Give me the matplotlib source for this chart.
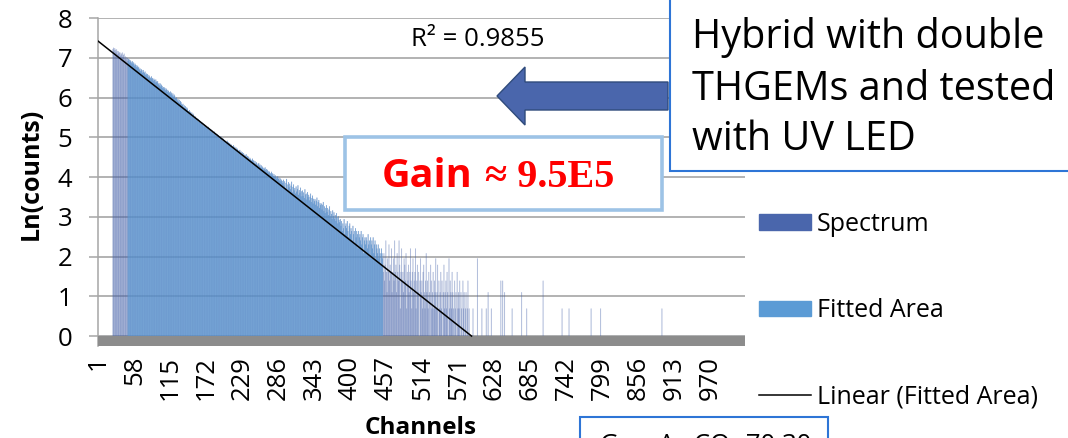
import numpy as np
import matplotlib.pyplot as plt
from matplotlib.patches import Patch, Rectangle, Polygon
from matplotlib.lines import Line2D

plt.rcParams['font.family'] = ['Open Sans', 'DejaVu Sans']

W, H = 1068, 438

# Ln(counts) per channel, dense part starting at channel 24 (channels 1-23 are empty)
n_channels = 1024
first_channel = 24
ln_counts = [
    7.22, 7.25, 7.18, 7.24, 7.20, 7.13, 7.21, 7.17, 7.09, 7.16,
    7.12, 7.14, 7.05, 7.11, 7.08, 7.13, 7.02, 7.07, 7.10, 6.98,
    7.03, 6.96, 7.01, 6.99, 6.92, 6.97, 6.95, 6.88, 6.93, 6.90,
    6.86, 6.91, 6.84, 6.88, 6.80, 6.85, 6.82, 6.76, 6.81, 6.78,
    6.74, 6.77, 6.70, 6.73, 6.66, 6.71, 6.68, 6.62, 6.69, 6.64,
    6.61, 6.65, 6.57, 6.60, 6.55, 6.59, 6.51, 6.56, 6.53, 6.48,
    6.50, 6.53, 6.46, 6.49, 6.42, 6.47, 6.44, 6.38, 6.45, 6.40,
    6.37, 6.41, 6.33, 6.36, 6.30, 6.35, 6.27, 6.32, 6.29, 6.24,
    6.26, 6.21, 6.25, 6.18, 6.23, 6.20, 6.14, 6.19, 6.16, 6.11,
    6.13, 6.15, 6.08, 6.12, 6.05, 6.10, 6.02, 6.07, 6.04, 5.98,
    5.97, 6.00, 5.92, 5.96, 5.89, 5.94, 5.86, 5.91, 5.88, 5.83,
    5.81, 5.84, 5.76, 5.80, 5.73, 5.78, 5.70, 5.75, 5.72, 5.66,
    5.65, 5.68, 5.60, 5.64, 5.57, 5.62, 5.54, 5.59, 5.56, 5.50,
    5.49, 5.52, 5.45, 5.48, 5.41, 5.46, 5.38, 5.43, 5.40, 5.35,
    5.35, 5.37, 5.31, 5.34, 5.27, 5.32, 5.25, 5.29, 5.26, 5.22,
    5.23, 5.26, 5.19, 5.22, 5.15, 5.20, 5.13, 5.17, 5.14, 5.09,
    5.11, 5.14, 5.07, 5.10, 5.03, 5.08, 5.01, 5.05, 5.02, 4.97,
    4.99, 5.02, 4.95, 4.98, 4.91, 4.96, 4.89, 4.93, 4.90, 4.85,
    4.88, 4.91, 4.84, 4.87, 4.80, 4.85, 4.78, 4.82, 4.79, 4.74,
    4.77, 4.80, 4.72, 4.76, 4.69, 4.74, 4.66, 4.71, 4.68, 4.63,
    4.65, 4.68, 4.61, 4.64, 4.57, 4.62, 4.55, 4.60, 4.56, 4.51,
    4.54, 4.57, 4.50, 4.53, 4.46, 4.51, 4.44, 4.48, 4.45, 4.40,
    4.43, 4.46, 4.39, 4.42, 4.35, 4.40, 4.33, 4.37, 4.34, 4.29,
    4.32, 4.35, 4.28, 4.31, 4.24, 4.29, 4.22, 4.26, 4.23, 4.18,
    4.21, 4.24, 4.17, 4.20, 4.13, 4.18, 4.11, 4.15, 4.12, 4.07,
    4.10, 4.13, 4.06, 4.09, 4.02, 4.07, 4.00, 4.04, 4.01, 3.96,
    3.99, 4.02, 3.95, 3.98, 3.91, 3.96, 3.89, 3.93, 3.90, 3.85,
    3.93, 3.78, 3.89, 3.71, 3.85, 3.95, 3.66, 3.81, 3.87, 3.74,
    3.83, 3.69, 3.78, 3.88, 3.61, 3.75, 3.81, 3.66, 3.72, 3.58,
    3.76, 3.63, 3.70, 3.79, 3.55, 3.67, 3.60, 3.73, 3.51, 3.64,
    3.66, 3.52, 3.61, 3.47, 3.69, 3.56, 3.43, 3.58, 3.62, 3.49,
    3.55, 3.41, 3.50, 3.58, 3.37, 3.47, 3.53, 3.33, 3.45, 3.39,
    3.44, 3.30, 3.40, 3.48, 3.26, 3.37, 3.42, 3.22, 3.34, 3.29,
    3.33, 3.18, 3.30, 3.37, 3.14, 3.26, 3.09, 3.22, 3.29, 3.12,
    3.22, 3.04, 3.18, 3.26, 3.00, 3.14, 3.07, 2.94, 3.16, 3.02,
    3.11, 2.95, 3.04, 2.89, 3.09, 2.98, 2.83, 3.01, 2.92, 2.86,
    2.94, 2.77, 2.89, 2.64, 2.83, 2.71, 2.94, 2.56, 2.77, 2.83,
    2.71, 2.89, 2.64, 2.48, 2.77, 2.83, 2.56, 2.71, 2.64, 2.40,
    2.77, 2.56, 2.64, 2.30, 2.71, 2.48, 2.64, 2.56, 2.20, 2.64,
    2.48, 2.56, 2.40, 2.64, 2.30, 2.48, 2.56, 2.08, 2.40, 2.48,
    2.30, 2.48, 2.40, 2.20, 2.56, 2.30, 2.40, 1.95, 2.48, 2.30,
    2.40, 2.20, 2.48, 2.08, 2.30, 2.40, 1.95, 2.30, 2.20, 2.08,
    2.30, 1.95, 2.20, 2.08, 1.79, 2.20, 2.08, 1.95,
    1.61, 2.08, 1.39, 1.79, 2.40, 1.61, 1.10, 1.95, 1.61, 2.30,
    1.39, 1.79, 1.61, 2.20, 1.10, 1.61, 1.95, 1.39, 2.40, 1.61,
    1.79, 1.10, 2.08, 1.61, 1.39, 2.40, 1.79, 0.69, 1.61, 2.20,
    1.39, 1.61, 1.10, 1.95, 1.79, 1.39, 2.08, 0.69, 1.61, 1.39,
    1.79, 1.10, 1.61, 2.20, 1.39, 0.69, 1.61, 1.95, 1.10, 1.39,
    1.61, 2.20, 0.69, 1.39, 1.79, 1.10, 1.61, 0.00, 1.39, 1.95,
    1.10, 1.39, 0.69, 1.61, 1.79, 1.10, 0.69, 1.39, 2.08, 1.10,
    1.39, 0.69, 1.61, 1.10, 0.00, 1.79, 1.39, 0.69, 1.10, 1.61,
    0.69, 1.39, 1.10, 1.95, 0.69, 1.10, 1.79, 0.00, 1.39, 0.69,
    1.10, 1.61, 0.69, 1.39, 0.00, 1.10, 1.79, 0.69, 1.10, 1.39,
    0.69, 1.61, 1.10, 0.00, 1.95, 0.69, 1.39, 1.10, 0.69, 1.61,
    1.10, 0.69, 0.00, 1.39, 0.69, 1.10, 0.00, 1.61, 0.69, 1.10,
    0.69, 1.39, 0.00, 1.10, 0.69, 0.00, 1.39, 0.69, 1.10, 0.00,
    0.69, 1.10, 0.00, 0.69, 1.39, 0.00, 0.69, 0.00,
]

# isolated hits past the end of the slope
sparse_channels = [594, 601, 608, 615, 618, 623, 638, 641, 644, 656,
                   671, 679, 705, 735, 746, 781, 796, 893]
sparse_values = [0.69, 1.95, 0.69, 0.69, 1.10, 0.69, 1.39, 1.39, 1.10, 0.69,
                 1.10, 0.69, 1.39, 0.69, 0.69, 0.69, 0.69, 0.69]

# channel range used for the exponential fit, and the fitted line
fit_first, fit_last = 48, 451
fit_slope = -0.01255
fit_intercept = 7.426
r_squared = 0.9855

tick_channels = [1, 58, 115, 172, 229, 286, 343, 400, 457, 514,
                 571, 628, 685, 742, 799, 856, 913, 970]


def fig_xy(x, y):
    """pixel position (from top left) -> figure fraction"""
    return x / W, 1 - y / H


channels = np.arange(1, n_channels + 1)
spectrum = np.zeros(n_channels)
spectrum[first_channel - 1:first_channel - 1 + len(ln_counts)] = ln_counts
spectrum[np.array(sparse_channels) - 1] = sparse_values
fit_mask = (channels >= fit_first) & (channels <= fit_last)

fig = plt.figure(figsize=(W / 100, H / 100), dpi=100)
ax = fig.add_axes([98 / W, 1 - 346 / H, (745 - 98) / W, (346 - 18) / H])

# columns are narrower than a pixel, so keep them unsnapped
ax.bar(channels, spectrum, width=1.0, color='#4a66ac', alpha=0.4,
       edgecolor='#4a66ac', linewidth=0.2, snap=False, zorder=2)
ax.bar(channels[fit_mask], spectrum[fit_mask], width=0.88, color='#5b9bd5',
       alpha=0.85, linewidth=0, snap=False, zorder=3)

# linear trend of the fitted area, cut where it reaches zero
x_end = -fit_intercept / fit_slope
xs = np.array([0.5, x_end])
ax.plot(xs, fit_intercept + fit_slope * xs, color='black', lw=1.1, zorder=5)

# grey floor under the columns
ax.axhspan(-0.25, 0, color='#8c8c8c', lw=0, zorder=4)

ax.set_xlim(0.5, n_channels + 0.5)
ax.set_ylim(-0.25, 8)
ax.set_yticks(range(0, 9))
ax.set_xticks(tick_channels)
ax.set_xticklabels([str(c) for c in tick_channels], rotation=90,
                   va='top', ha='center')
ax.tick_params(axis='x', length=0, pad=7, labelsize=18.5)
ax.tick_params(axis='y', length=6.5, width=1.1, color='#a6a6a6', pad=12,
               labelsize=18.5)
ax.grid(axis='y', color='#a6a6a6', lw=1.2, zorder=0)
ax.set_axisbelow(True)
for side in ['top', 'right', 'bottom']:
    ax.spines[side].set_visible(False)
ax.spines['left'].set_color('#a6a6a6')
ax.spines['left'].set_linewidth(1.1)

fig.text(*fig_xy(31, 174), 'Ln(counts)', rotation=90, ha='center',
         va='center', fontsize=18, fontweight='bold')
fig.text(*fig_xy(421, 434), 'Channels', ha='center', va='baseline',
         fontsize=17.5, fontweight='bold')

fig.text(*fig_xy(478, 40), f'R² = {r_squared}', ha='center', va='center',
         fontsize=18.5)

# legend
handles = [Patch(color='#4a66ac'), Patch(color='#5b9bd5'),
           Line2D([], [], color='black', lw=1.1)]
fig.legend(handles, ['Spectrum', 'Fitted Area', 'Linear (Fitted Area)'],
           loc='upper left', bbox_to_anchor=fig_xy(759, 212), frameon=False,
           fontsize=18, borderpad=0, borderaxespad=0, handlelength=2.08,
           handleheight=0.6, handletextpad=0.23, labelspacing=2.45)

# arrow pointing at the fit
arrow_px = [(497, 96), (525, 67), (525, 82), (668, 82), (668, 110),
            (525, 110), (525, 125)]
fig.add_artist(Polygon([fig_xy(x, y) for x, y in arrow_px], closed=True,
                       transform=fig.transFigure, facecolor='#4a66ac',
                       edgecolor='#2f4b7c', lw=1.0))

# gain box
fig.add_artist(Rectangle(fig_xy(345, 210), 317 / W, 73 / H,
                         transform=fig.transFigure, facecolor='white',
                         edgecolor='#9dc3e6', lw=2.6))
fig.text(*fig_xy(382, 187), 'Gain', color='red', fontsize=28.5,
         fontweight='bold', va='baseline', ha='left')
fig.text(*fig_xy(485, 187), '≈ 9.5E5', color='red', fontsize=29,
         fontweight='bold', va='baseline', ha='left',
         family=['Liberation Serif', 'DejaVu Serif'])

# description box
fig.add_artist(Rectangle(fig_xy(670, 171), 410 / W, 180 / H,
                         transform=fig.transFigure, facecolor='white',
                         edgecolor='#2e75d6', lw=1.5))
for line, base in zip(['Hybrid with double', 'THGEMs and tested',
                       'with UV LED'], [48, 100, 150]):
    fig.text(*fig_xy(692, base), line, fontsize=28.5, va='baseline',
             ha='left')

# gas box at the bottom edge
fig.add_artist(Rectangle(fig_xy(580, 460), 248 / W, 43 / H,
                         transform=fig.transFigure, facecolor='white',
                         edgecolor='#2e75d6', lw=1.5))
fig.text(*fig_xy(600, 452), 'Gas: Ar-CO₂ 70:30', fontsize=18.5,
         va='baseline', ha='left')

fig.savefig('out.png', dpi=100)
